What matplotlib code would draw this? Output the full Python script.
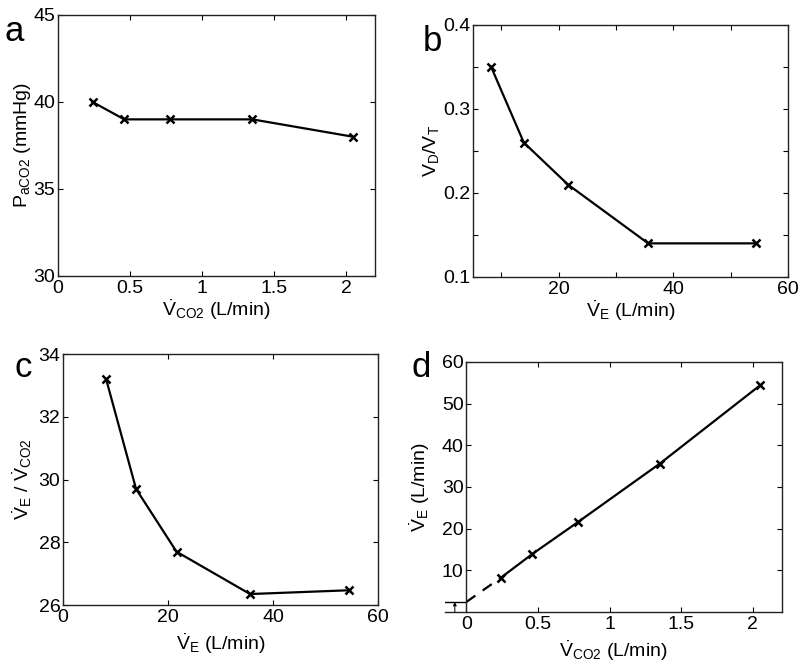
"""Four-panel ventilation chart (PaCO2, VD/VT, VE/VCO2, VE vs VCO2)."""

import numpy as np
import matplotlib
matplotlib.use("Agg")
import matplotlib.pyplot as plt

plt.rcParams['font.family'] = ['Liberation Sans', 'DejaVu Sans']
plt.rcParams['mathtext.fontset'] = 'custom'
plt.rcParams['mathtext.rm'] = 'Liberation Sans'
plt.rcParams['mathtext.it'] = 'Liberation Sans:italic'
plt.rcParams['mathtext.bf'] = 'Liberation Sans:bold'
plt.rcParams['font.size'] = 14

# data
vco2 = [0.24, 0.46, 0.78, 1.35, 2.05]          # L/min
paco2 = [40, 39, 39, 39, 38]                    # mmHg
ve = [8.2, 13.9, 21.6, 35.6, 54.4]              # L/min
vd_vt = [0.35, 0.26, 0.21, 0.14, 0.14]
ve_vco2 = [33.2, 29.7, 27.7, 26.35, 26.47]
ve_intercept = 2.4                              # L/min at VCO2 = 0

XL_VCO2 = r'$\dot{\mathrm{V}}_{\mathrm{CO2}}$ (L/min)'
XL_VE = r'$\dot{\mathrm{V}}_{\mathrm{E}}$ (L/min)'


def style(ax):
    ax.tick_params(direction='in', top=True, right=True, length=3.5,
                   width=0.8, labelsize=14, pad=2)
    ax.tick_params(axis='x', pad=3)
    for s in ax.spines.values():
        s.set_linewidth(1.0)
        s.set_color('#222222')


def line(ax, x, y):
    ax.plot(x, y, color='black', lw=1.6, marker='x', ms=5.5, mew=1.8)


fig = plt.figure(figsize=(8, 6.65), dpi=100)

# a
ax = fig.add_axes([0.0725, 0.585, 0.396, 0.3925])
line(ax, vco2, paco2)
ax.set_xlim(0, 2.2)
ax.set_ylim(30, 45)
ax.set_xticks([0, 0.5, 1, 1.5, 2])
ax.set_xticklabels(['0', '0.5', '1', '1.5', '2'])
ax.set_yticks([30, 35, 40, 45])
ax.set_xlabel(XL_VCO2, labelpad=0)
ax.set_ylabel(r'P$_{\mathrm{aCO2}}$ (mmHg)', labelpad=0)
style(ax)
fig.text(0.005, 0.977, 'a', fontsize=25, va='top')

# b
ax = fig.add_axes([0.591, 0.5835, 0.394, 0.379])
line(ax, ve, vd_vt)
ax.set_xlim(5, 60)
ax.set_ylim(0.1, 0.4)
ax.set_xticks([10, 20, 30, 40, 50, 60])
ax.set_xticklabels(['', '20', '', '40', '', '60'])
ax.set_yticks([0.1, 0.15, 0.2, 0.25, 0.3, 0.35, 0.4])
ax.set_yticklabels(['0.1', '', '0.2', '', '0.3', '', '0.4'])
ax.set_xlabel(XL_VE, labelpad=0)
ax.set_ylabel(r'V$_{\mathrm{D}}$/V$_{\mathrm{T}}$', labelpad=1)
style(ax)
fig.text(0.528, 0.962, 'b', fontsize=25, va='top')

# c
ax = fig.add_axes([0.0788, 0.0902, 0.394, 0.3774])
line(ax, ve, ve_vco2)
ax.set_xlim(0, 60)
ax.set_ylim(26, 34)
ax.set_xticks([0, 20, 40, 60])
ax.set_yticks([26, 28, 30, 32, 34])
ax.set_xlabel(XL_VE, labelpad=4)
ax.set_ylabel(r'$\dot{\mathrm{V}}_{\mathrm{E}}$ / $\dot{\mathrm{V}}_{\mathrm{CO2}}$', labelpad=3)
style(ax)
fig.text(0.018, 0.472, 'c', fontsize=25, va='top')

# d
ax = fig.add_axes([0.556, 0.0797, 0.421, 0.376])
line(ax, vco2, ve)
ax.plot([0, vco2[0]], [ve_intercept, ve[0]], color='black', lw=1.6,
        dashes=(5, 4))
ax.plot([-0.15, 0], [ve_intercept, ve_intercept], color='black', lw=1.0)
ax.annotate('', xy=(-0.08, ve_intercept), xytext=(-0.08, 0),
            arrowprops=dict(arrowstyle='-|>', color='black', lw=0.7,
                            mutation_scale=5, shrinkA=0, shrinkB=0))
ax.set_xlim(-0.15, 2.2)
ax.set_ylim(0, 60)
ax.set_xticks([0, 0.5, 1, 1.5, 2])
ax.set_xticklabels(['0', '0.5', '1', '1.5', '2'])
ax.set_yticks([10, 20, 30, 40, 50, 60])
ax.spines['left'].set_position(('data', 0))
ax.spines['top'].set_bounds(0, 2.2)
ax.set_xlabel(XL_VCO2, labelpad=4)
ax.set_ylabel(XL_VE, labelpad=7)
style(ax)
fig.text(0.514, 0.472, 'd', fontsize=25, va='top')

fig.savefig('out.png', dpi=100)
